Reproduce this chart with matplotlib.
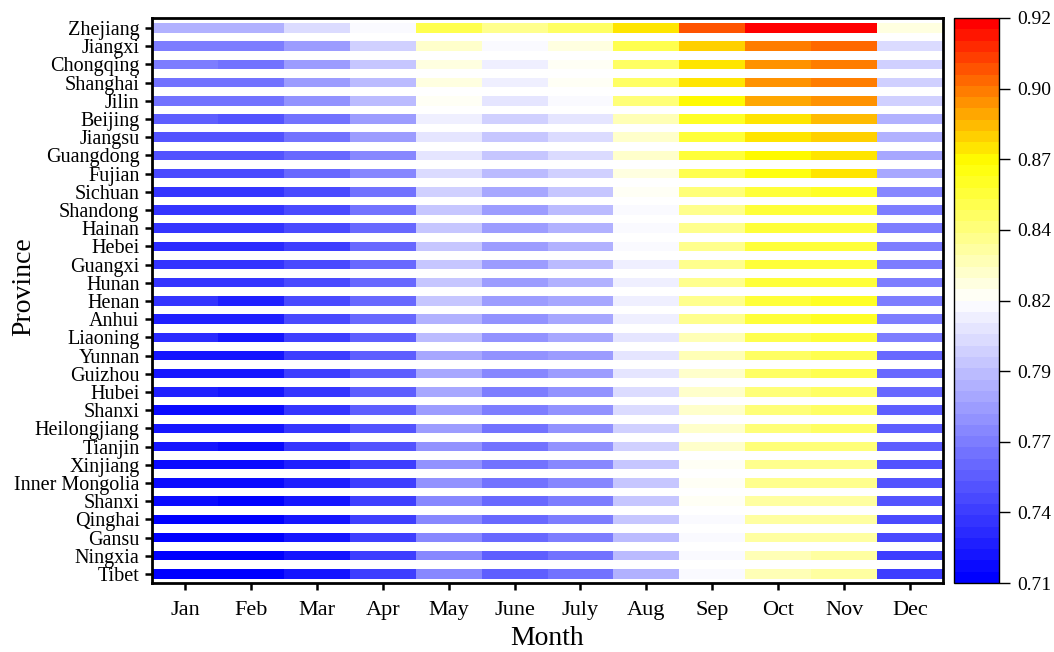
import numpy as np
import matplotlib
matplotlib.use("Agg")
import matplotlib.pyplot as plt
from matplotlib.colors import LinearSegmentedColormap, Normalize
from matplotlib.cm import ScalarMappable

plt.rcParams['font.family'] = ['Liberation Serif', 'DejaVu Serif']

# ---- data (top row of the chart first) ----
provinces = ['Zhejiang', 'Jiangxi', 'Chongqing', 'Shanghai', 'Jilin', 'Beijing',
             'Jiangsu', 'Guangdong', 'Fujian', 'Sichuan', 'Shandong', 'Hainan',
             'Hebei', 'Guangxi', 'Hunan', 'Henan', 'Anhui', 'Liaoning', 'Yunnan',
             'Guizhou', 'Hubei', 'Shanxi', 'Heilongjiang', 'Tianjin', 'Xinjiang',
             'Inner Mongolia', 'Shanxi', 'Qinghai', 'Gansu', 'Ningxia', 'Tibet']
months = ['Jan', 'Feb', 'Mar', 'Apr', 'May', 'June', 'July', 'Aug', 'Sep', 'Oct', 'Nov', 'Dec']

values = np.array([
    [.785, .785, .799, .813, .849, .839, .846, .872, .901, .916, .920, .823],  # Zhejiang
    [.761, .761, .776, .794, .826, .813, .823, .849, .876, .892, .897, .799],  # Jiangxi
    [.764, .757, .774, .790, .821, .809, .818, .845, .872, .888, .893, .794],  # Chongqing
    [.759, .759, .774, .786, .823, .809, .818, .845, .872, .888, .892, .794],  # Shanghai
    [.759, .759, .772, .786, .818, .805, .812, .841, .868, .885, .889, .796],  # Jilin
    [.751, .745, .759, .774, .809, .796, .803, .830, .859, .872, .880, .782],  # Beijing
    [.745, .745, .759, .774, .804, .792, .799, .826, .855, .872, .876, .782],  # Jiangsu
    [.745, .745, .755, .768, .804, .792, .799, .826, .855, .868, .872, .778],  # Guangdong
    [.741, .741, .753, .768, .801, .786, .796, .823, .849, .863, .870, .778],  # Fujian
    [.733, .733, .743, .759, .794, .780, .790, .818, .841, .857, .859, .768],  # Sichuan
    [.731, .731, .743, .757, .790, .776, .786, .813, .840, .854, .857, .764],  # Shandong
    [.731, .731, .741, .753, .790, .776, .785, .813, .837, .854, .857, .764],  # Hainan
    [.729, .729, .739, .753, .790, .776, .785, .812, .837, .854, .857, .764],  # Hebei
    [.733, .733, .741, .755, .791, .777, .786, .809, .837, .854, .857, .764],  # Guangxi
    [.731, .731, .741, .755, .790, .776, .784, .809, .838, .854, .857, .764],  # Hunan
    [.731, .726, .741, .755, .790, .775, .781, .809, .838, .854, .858, .764],  # Henan
    [.726, .726, .741, .755, .784, .772, .780, .809, .837, .855, .859, .764],  # Anhui
    [.729, .722, .737, .751, .786, .772, .780, .804, .831, .852, .855, .761],  # Liaoning
    [.722, .722, .737, .751, .779, .769, .776, .804, .831, .847, .850, .755],  # Yunnan
    [.722, .722, .737, .751, .779, .767, .776, .804, .827, .847, .852, .755],  # Guizhou
    [.724, .720, .735, .749, .780, .764, .772, .800, .826, .844, .847, .754],  # Hubei
    [.718, .718, .733, .749, .776, .762, .772, .800, .827, .844, .847, .748],  # Shanxi
    [.720, .720, .735, .747, .776, .760, .772, .796, .824, .842, .845, .748],  # Heilongjiang
    [.720, .716, .731, .745, .772, .759, .769, .795, .824, .841, .843, .748],  # Tianjin
    [.716, .716, .724, .739, .770, .757, .766, .790, .819, .838, .839, .744],  # Xinjiang
    [.716, .716, .724, .739, .770, .757, .766, .790, .818, .837, .838, .744],  # Inner Mongolia
    [.716, .712, .722, .737, .768, .753, .762, .790, .818, .834, .836, .744],  # Shanxi
    [.712, .712, .722, .737, .768, .753, .762, .790, .813, .832, .835, .740],  # Qinghai
    [.712, .712, .722, .737, .768, .753, .762, .786, .813, .832, .835, .740],  # Gansu
    [.710, .710, .722, .737, .768, .750, .760, .786, .812, .830, .833, .739],  # Ningxia
    [.712, .712, .722, .737, .768, .750, .758, .784, .812, .829, .833, .737],  # Tibet
])

vmin, vmax = 0.71, 0.92
cbar_labels = ['0.71', '0.74', '0.77', '0.79', '0.82', '0.84', '0.87', '0.90', '0.92']

# ---- colormap: blue -> white -> yellow -> red, stepped ----
cmap = LinearSegmentedColormap.from_list(
    'bwyr', [(0.0, (0, 0, 1)), (0.5, (1, 1, 1)), (0.75, (1, 1, 0)), (1.0, (1, 0, 0))], N=50)
norm = Normalize(vmin=vmin, vmax=vmax)

fig = plt.figure(figsize=(10.54, 6.52), dpi=100)
ax = fig.add_axes([152 / 1054, 1 - 583 / 652, 791 / 1054, 565 / 652])
cax = fig.add_axes([954 / 1054, 1 - 583 / 652, 45 / 1054, 565 / 652])

n = len(provinces)
ypos = np.arange(n)[::-1]
for j in range(len(months)):
    ax.barh(ypos, 1.0, left=j + 0.5, height=0.52,
            color=cmap(norm(values[:, j])), edgecolor='none')

ax.set_xlim(0.5, 12.5)
ax.set_ylim(-0.5, 30.55)
ax.set_xticks(np.arange(1, 13))
ax.set_xticklabels(months)
ax.set_yticks(ypos)
ax.set_yticklabels(provinces)
ax.tick_params(axis='both', length=5, width=1.8, direction='out')
ax.tick_params(axis='x', labelsize=16, pad=8)
ax.tick_params(axis='y', labelsize=14.5, pad=4)
for s in ax.spines.values():
    s.set_linewidth(2)
ax.set_xlabel('Month', fontsize=20, labelpad=4)
fig.text(24 / 1054, 1 - 287 / 652, 'Province', fontsize=20, rotation=90,
         ha='center', va='center')

sm = ScalarMappable(norm=norm, cmap=cmap)
cb = fig.colorbar(sm, cax=cax)
ticks = np.linspace(vmin, vmax, len(cbar_labels))
cb.set_ticks(ticks)
cb.set_ticklabels(cbar_labels)
cb.ax.tick_params(labelsize=14, length=8, width=1, direction='out', pad=5)
cb.outline.set_linewidth(1)

fig.savefig('out.png', dpi=100)
